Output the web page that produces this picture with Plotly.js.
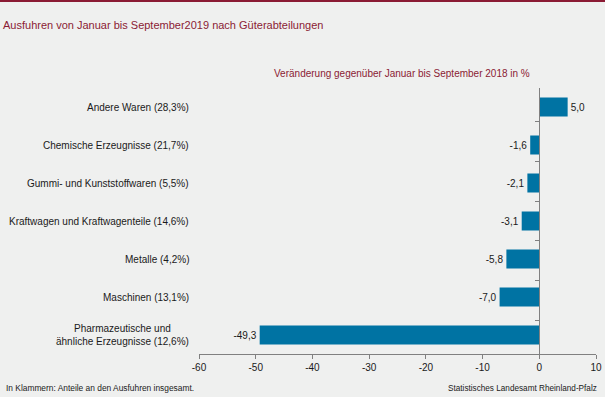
<!DOCTYPE html>
<html>
<head>
<meta charset="utf-8">
<script src="https://cdn.plot.ly/plotly-3.0.1.min.js"></script>
<style>
html,body{margin:0;padding:0;background:#eff0ef;}
#topbar{position:absolute;left:0;top:0;width:605px;height:2px;background:#8b1b34;z-index:10;}
#chart{width:605px;height:397px;}
</style>
</head>
<body>
<div id="topbar"></div>
<div id="chart"></div>
<script>
var categories = [
  "Andere Waren (28,3%)",
  "Chemische Erzeugnisse (21,7%)",
  "Gummi- und Kunststoffwaren (5,5%)",
  "Kraftwagen und Kraftwagenteile (14,6%)",
  "Metalle (4,2%)",
  "Maschinen (13,1%)",
  "Pharmazeutische und<br>ähnliche Erzeugnisse (12,6%)"
];
var changes = [5.0, -1.6, -2.1, -3.1, -5.8, -7.0, -49.3];
var tickValues = [-60, -50, -40, -30, -20, -10, 0, 10];
var tickLabels = ["-60", "-50", "-40", "-30", "-20", "-10", "0", "10"];

var xMin = -60, xMax = 10;
var fontFam = "Liberation Sans, Arial, sans-serif";
var textLabels = changes.map(function(v){ return v.toFixed(1).replace('.', ','); });

var traces = [
  {
    type: 'bar', orientation: 'h',
    x: changes, y: categories,
    marker: {color: '#0073a3'},
    text: textLabels, textposition: 'outside', cliponaxis: false,
    textfont: {family: fontFam, size: 10, color: '#1a1a1a'},
    hoverinfo: 'skip'
  },
  {
    type: 'scatter', mode: 'none',
    x: changes.map(function(){ return 0; }), y: categories,
    yaxis: 'y2', hoverinfo: 'skip', showlegend: false
  }
];

var annotations = categories.map(function(c){
  return {
    xref: 'paper', yref: 'y', x: -0.02, y: c,
    xanchor: 'right', yanchor: 'middle', align: 'center',
    text: c, showarrow: false,
    font: {family: fontFam, size: 10, color: '#1a1a1a'}
  };
});
annotations.push({
  xref: 'paper', yref: 'paper', x: 0.185, y: 1.056,
  xanchor: 'left', yanchor: 'middle', showarrow: false,
  text: 'Veränderung gegenüber Januar bis September 2018 in %',
  font: {family: fontFam, size: 10, color: '#8b1b34'}
});
annotations.push({
  xref: 'paper', yref: 'paper', x: -0.491, y: -0.128,
  xanchor: 'left', yanchor: 'middle', showarrow: false,
  text: 'In Klammern: Anteile an den Ausfuhren insgesamt.',
  font: {family: fontFam, size: 8.4, color: '#1a1a1a'}
});
annotations.push({
  xref: 'paper', yref: 'paper', x: 1.0076, y: -0.128,
  xanchor: 'right', yanchor: 'middle', showarrow: false,
  text: 'Statistisches Landesamt Rheinland-Pfalz',
  font: {family: fontFam, size: 8.2, color: '#1a1a1a'}
});

var layout = {
  width: 605, height: 397,
  margin: {l: 199, r: 9, t: 88, b: 43},
  paper_bgcolor: '#eff0ef', plot_bgcolor: '#eff0ef',
  showlegend: false,
  bargap: 0.5,
  title: {
    text: 'Ausfuhren von Januar bis September2019 nach Güterabteilungen',
    x: 3/605, xanchor: 'left', xref: 'container',
    y: 1 - 25/397, yanchor: 'middle', yref: 'container',
    font: {family: fontFam, size: 11, color: '#8b1b34'}
  },
  xaxis: {
    range: [xMin, xMax], tickvals: tickValues, ticktext: tickLabels,
    showgrid: false, zeroline: false,
    showline: true, linecolor: '#808080', linewidth: 1,
    ticks: 'outside', ticklen: 4, tickcolor: '#808080',
    tickfont: {family: fontFam, size: 10, color: '#1a1a1a'},
    fixedrange: true
  },
  yaxis: {
    type: 'category', autorange: 'reversed',
    showticklabels: false, showgrid: false, zeroline: false,
    showline: false, ticks: '', fixedrange: true
  },
  yaxis2: {
    type: 'category', overlaying: 'y', anchor: 'free',
    position: (0 - xMin) / (xMax - xMin), side: 'left',
    autorange: 'reversed',
    showticklabels: false, showgrid: false, zeroline: false,
    showline: true, linecolor: '#808080', linewidth: 1,
    ticks: 'outside', tickson: 'boundaries', ticklen: 4, tickcolor: '#808080',
    fixedrange: true
  },
  annotations: annotations
};

Plotly.newPlot('chart', traces, layout, {displayModeBar: false, staticPlot: true});
</script>
</body>
</html>
